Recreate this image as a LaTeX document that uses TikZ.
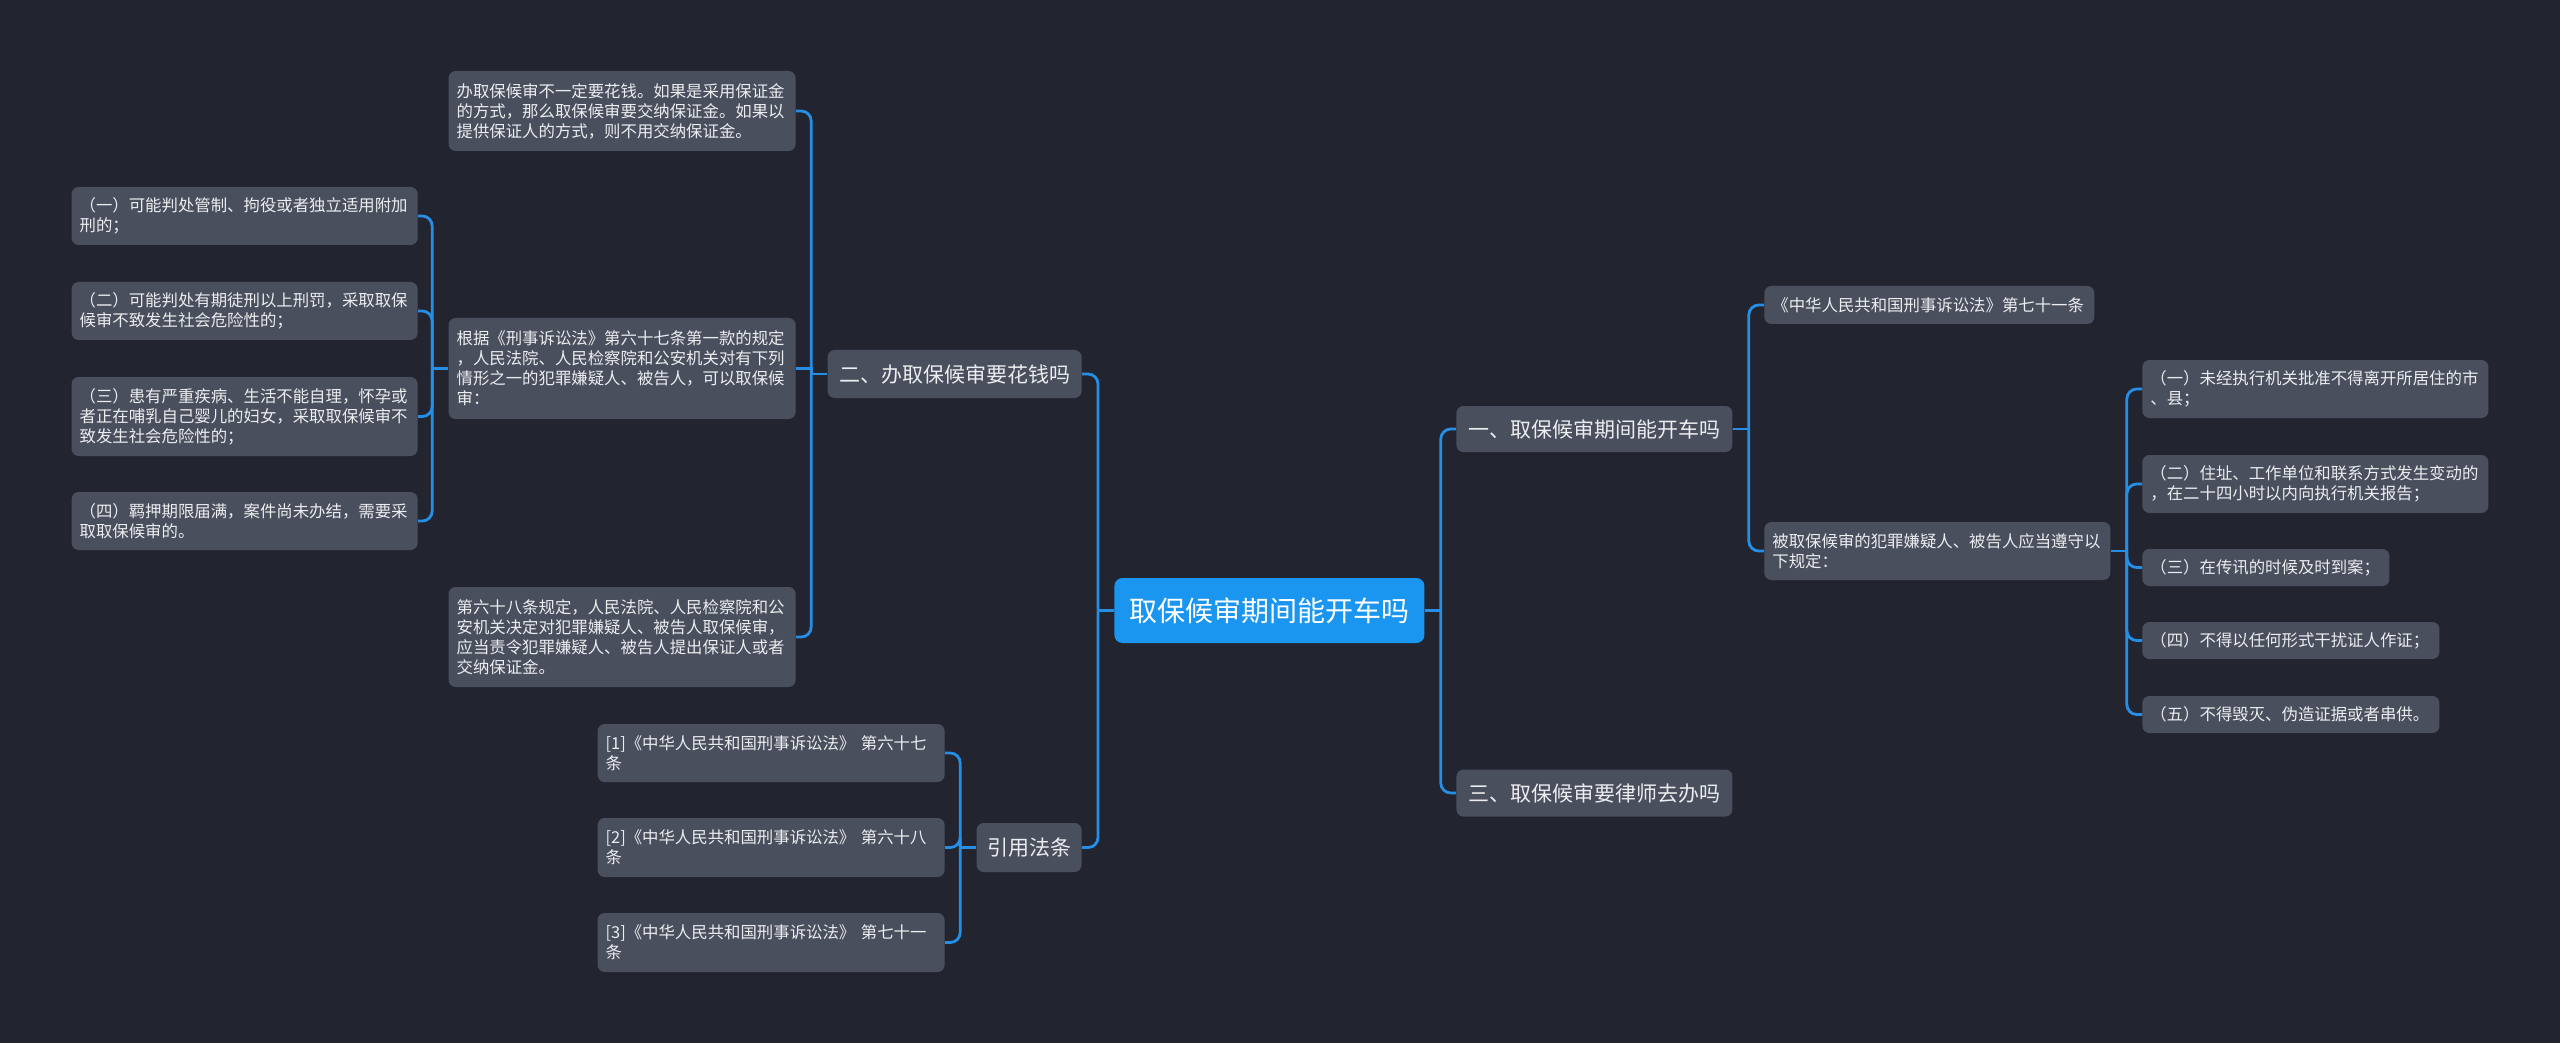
\documentclass[tikz,border=0pt]{standalone}
\usepackage{fontspec}
\setmainfont{Noto Sans CJK SC}
\definecolor{bgc}{RGB}{34,37,47}
\definecolor{nodefill}{RGB}{74,79,93}
\definecolor{txt}{RGB}{236,237,240}
\definecolor{linec}{RGB}{38,142,228}
\definecolor{rootfill}{RGB}{26,150,240}
\newcommand\linkR[3][turn]{\draw[conn] (#2.east) -- ++(8pt,0) coordinate (tmpj); \draw[#1] (tmpj) |- (#3.west);}
\newcommand\linkL[3][turn]{\draw[conn] (#2.west) -- ++(-8pt,0) coordinate (tmpj); \draw[#1] (tmpj) |- (#3.east);}
\begin{document}
\begin{tikzpicture}[x=0.5pt,y=-0.5pt,
  box/.style={fill=nodefill, text=txt, rounded corners=3.5pt, inner xsep=4pt, inner ysep=0pt, align=left, font=\fontsize{8.2pt}{10pt}\selectfont},
  mid/.style={fill=nodefill, text=txt, rounded corners=3.5pt, inner sep=0pt, align=center, font=\fontsize{10.5pt}{13pt}\selectfont},
  root/.style={fill=rootfill, text=white, rounded corners=4pt, inner sep=0pt, align=center, font=\fontsize{14pt}{17pt}\selectfont},
  conn/.style={draw=linec, line width=1.4pt},
  turn/.style={conn, rounded corners=5pt}]
\fill[bgc] (0,0) rectangle (2560,1043);
\useasboundingbox (0,0) rectangle (2560,1043);

% root
\node[root, anchor=west, minimum width=155pt, minimum height=32.5pt] (c) at (1114,610.5) {取保候审期间能开车吗};

% level 1
\node[mid, anchor=west, minimum width=138pt, minimum height=23pt] (n1) at (1456,429) {一、取保候审期间能开车吗};
\node[mid, anchor=west, minimum width=138pt, minimum height=23.5pt] (n3) at (1456,793) {三、取保候审要律师去办吗};
\node[mid, anchor=east, minimum width=127pt, minimum height=24pt] (n2) at (1082,374) {二、办取保候审要花钱吗};
\node[mid, anchor=east, minimum width=52.5pt, minimum height=24.5pt] (nr) at (1082,847.5) {引用法条};

% children of n2
\node[box, anchor=east, text width=165.5pt, minimum height=40pt] (a1) at (796,111) {办取保候审不一定要花钱。如果是采用保证金\\的方式，那么取保候审要交纳保证金。如果以\\提供保证人的方式，则不用交纳保证金。};
\node[box, anchor=east, text width=165.5pt, minimum height=50.5pt] (a2) at (796,368.5) {根据《刑事诉讼法》第六十七条第一款的规定\\，人民法院、人民检察院和公安机关对有下列\\情形之一的犯罪嫌疑人、被告人，可以取保候\\审：};
\node[box, anchor=east, text width=165.5pt, minimum height=50pt] (a3) at (796,637) {第六十八条规定，人民法院、人民检察院和公\\安机关决定对犯罪嫌疑人、被告人取保候审，\\应当责令犯罪嫌疑人、被告人提出保证人或者\\交纳保证金。};

% children of a2
\node[box, anchor=east, text width=165pt, minimum height=29pt] (b1) at (418,216) {（一）可能判处管制、拘役或者独立适用附加\\刑的；};
\node[box, anchor=east, text width=165pt, minimum height=29pt] (b2) at (418,311) {（二）可能判处有期徒刑以上刑罚，采取取保\\候审不致发生社会危险性的；};
\node[box, anchor=east, text width=165pt, minimum height=39.5pt] (b3) at (418,416.5) {（三）患有严重疾病、生活不能自理，怀孕或\\者正在哺乳自己婴儿的妇女，采取取保候审不\\致发生社会危险性的；};
\node[box, anchor=east, text width=165pt, minimum height=29pt] (b4) at (418,521) {（四）羁押期限届满，案件尚未办结，需要采\\取取保候审的。};

% references
\node[box, anchor=east, text width=165.5pt, minimum height=29pt] (r1) at (945,753) {[1]《中华人民共和国刑事诉讼法》 第六十七\\条};
\node[box, anchor=east, text width=165.5pt, minimum height=29.5pt] (r2) at (945,847.5) {[2]《中华人民共和国刑事诉讼法》 第六十八\\条};
\node[box, anchor=east, text width=165.5pt, minimum height=29.5pt] (r3) at (945,942.5) {[3]《中华人民共和国刑事诉讼法》 第七十一\\条};

% children of n1
\node[box, anchor=west, text width=157pt, minimum height=19pt] (d1) at (1764,305) {《中华人民共和国刑事诉讼法》第七十一条};
\node[box, anchor=west, text width=165pt, minimum height=29pt] (d2) at (1764,551) {被取保候审的犯罪嫌疑人、被告人应当遵守以\\下规定：};

% children of d2
\node[box, anchor=west, text width=165pt, minimum height=29pt] (e1) at (2142,389) {（一）未经执行机关批准不得离开所居住的市\\、县；};
\node[box, anchor=west, text width=165pt, minimum height=29pt] (e2) at (2142,484) {（二）住址、工作单位和联系方式发生变动的\\，在二十四小时以内向执行机关报告；};
\node[box, anchor=west, text width=115.5pt, minimum height=18.5pt] (e3) at (2142,567.5) {（三）在传讯的时候及时到案；};
\node[box, anchor=west, text width=140.5pt, minimum height=18.5pt] (e4) at (2142,640.5) {（四）不得以任何形式干扰证人作证；};
\node[box, anchor=west, text width=140.5pt, minimum height=18.5pt] (e5) at (2142,714.5) {（五）不得毁灭、伪造证据或者串供。};

% connectors
\linkR{c}{n1}
\linkR{c}{n3}
\linkL{c}{n2}
\linkL{c}{nr}
\linkR{n1}{d1}
\linkR{n1}{d2}
\linkR{d2}{e1}
\linkR{d2}{e2}
\linkR{d2}{e3}
\linkR{d2}{e4}
\linkR{d2}{e5}
\linkL{n2}{a1}
\linkL[conn]{n2}{a2}
\linkL{n2}{a3}
\linkL{a2}{b1}
\linkL{a2}{b2}
\linkL{a2}{b3}
\linkL{a2}{b4}
\linkL{nr}{r1}
\linkL{nr}{r2}
\linkL{nr}{r3}
\end{tikzpicture}
\end{document}
